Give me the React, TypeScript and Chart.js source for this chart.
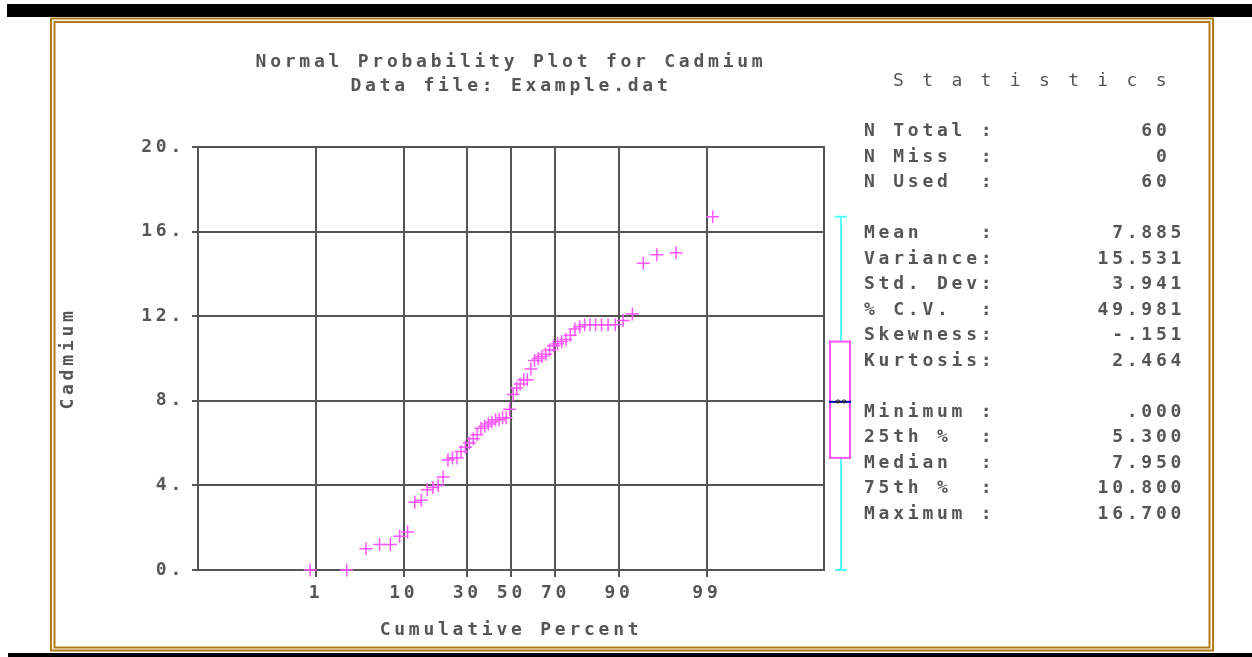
import React, { useEffect, useRef } from 'react';
import { Chart, registerables } from 'chart.js';

Chart.register(...registerables);

// ---- data ----
const cadmium = [
  0, 0, 1.0, 1.2, 1.2, 1.6, 1.8, 3.2, 3.3, 3.8,
  3.9, 4.0, 4.4, 5.2, 5.3, 5.3, 5.6, 5.8, 6.0, 6.2,
  6.4, 6.7, 6.8, 6.9, 7.0, 7.1, 7.1, 7.2, 7.2, 7.6,
  8.3, 8.6, 8.8, 9.0, 9.0, 9.5, 9.9, 10.0, 10.1, 10.2,
  10.4, 10.6, 10.7, 10.8, 10.9, 11.1, 11.4, 11.5, 11.6, 11.6,
  11.6, 11.6, 11.6, 11.6, 11.8, 12.1, 14.5, 14.9, 15.0, 16.7,
];
const cumulativePercent = [
  0.83, 2.5, 4.17, 5.83, 7.5, 9.17, 10.83, 12.5, 14.17, 15.83,
  17.5, 19.17, 20.83, 22.5, 24.17, 25.83, 27.5, 29.17, 30.83, 32.5,
  34.17, 35.83, 37.5, 39.17, 40.83, 42.5, 44.17, 45.83, 47.5, 49.17,
  50.83, 52.5, 54.17, 55.83, 57.5, 59.17, 60.83, 62.5, 64.17, 65.83,
  67.5, 69.17, 70.83, 72.5, 74.17, 75.83, 77.5, 79.17, 80.83, 82.5,
  84.17, 85.83, 87.5, 89.17, 90.83, 92.5, 94.17, 95.83, 97.5, 99.17,
];
const xTickPercents = [1, 10, 30, 50, 70, 90, 99];
const yTickStep = 4;
const yMin = 0;
const yMax = 20;

const titleLines = ['Normal Probability Plot for Cadmium', 'Data file: Example.dat'];
const xTitle = 'Cumulative Percent';
const yTitle = 'Cadmium';

const countLabels = ['N Total', 'N Miss', 'N Used'];
const countValues = [60, 0, 60];
const momentLabels = ['Mean', 'Variance', 'Std. Dev', '% C.V.', 'Skewness', 'Kurtosis'];
const momentValues = [7.885, 15.531, 3.941, 49.981, -0.151, 2.464];
const quantileLabels = ['Minimum', '25th %', 'Median', '75th %', 'Maximum'];
const quantileValues = [0, 5.3, 7.95, 10.8, 16.7];

// ---- helpers ----
function probit(p: number): number {
  const a = [-3.969683028665376e1, 2.209460984245205e2, -2.759285104469687e2, 1.38357751867269e2, -3.066479806614716e1, 2.506628277459239];
  const b = [-5.447609879822406e1, 1.615858368580409e2, -1.556989798598866e2, 6.680131188771972e1, -1.328068155288572e1];
  const c = [-7.784894002430293e-3, -3.223964580411365e-1, -2.400758277161838, -2.549732539343734, 4.374664141464968, 2.938163982698783];
  const d = [7.784695709041462e-3, 3.224671290700398e-1, 2.445134137142996, 3.754408661907416];
  const pl = 0.02425;
  const ph = 1 - pl;
  if (p < pl) {
    const q = Math.sqrt(-2 * Math.log(p));
    return (((((c[0] * q + c[1]) * q + c[2]) * q + c[3]) * q + c[4]) * q + c[5]) / ((((d[0] * q + d[1]) * q + d[2]) * q + d[3]) * q + 1);
  }
  if (p <= ph) {
    const q = p - 0.5;
    const r = q * q;
    return ((((((a[0] * r + a[1]) * r + a[2]) * r + a[3]) * r + a[4]) * r + a[5]) * q) / (((((b[0] * r + b[1]) * r + b[2]) * r + b[3]) * r + b[4]) * r + 1);
  }
  const q = Math.sqrt(-2 * Math.log(1 - p));
  return -(((((c[0] * q + c[1]) * q + c[2]) * q + c[3]) * q + c[4]) * q + c[5]) / ((((d[0] * q + d[1]) * q + d[2]) * q + d[3]) * q + 1);
}

function fmt3(v: number): string {
  let s = Math.abs(v).toFixed(3);
  if (s.startsWith('0.')) s = s.slice(1);
  return (v < 0 ? '-' : '') + s;
}

const W = 1252;
const H = 657;
const GRAY = '#555555';
const MAGENTA = '#ff55ff';
const CYAN = '#55ffff';
const DARKBLUE = '#0000aa';
const GOLD = '#b07a14';
const FONT = "'DejaVu Sans Mono', 'Liberation Mono', monospace";
const FONT_SIZE = 18;
const SPACING = '3.76px';

const statLines: string[] = [
  ...countLabels.map((l, i) => l.padEnd(8) + ':' + String(countValues[i]).padStart(12)),
  '',
  ...momentLabels.map((l, i) => l.padEnd(8) + ':' + fmt3(momentValues[i]).padStart(13)),
  '',
  ...quantileLabels.map((l, i) => l.padEnd(8) + ':' + fmt3(quantileValues[i]).padStart(13)),
];

const framePlugin = {
  id: 'frameAndBox',
  beforeInit(chart: any) {
    chart.ctx.letterSpacing = SPACING;
  },
  beforeUpdate(chart: any) {
    chart.ctx.letterSpacing = SPACING;
  },
  beforeDraw(chart: any) {
    const ctx = chart.ctx;
    ctx.letterSpacing = SPACING;
    ctx.save();
    ctx.fillStyle = '#ffffff';
    ctx.fillRect(0, 0, W, H);
    ctx.fillStyle = '#000000';
    ctx.fillRect(7, 4, W - 7, 13);
    ctx.fillRect(8, 653, W - 8, 4);
    ctx.strokeStyle = GOLD;
    ctx.lineWidth = 2;
    ctx.strokeRect(51, 18.5, 1162, 632);
    ctx.strokeRect(54.5, 22, 1155, 625.5);
    ctx.restore();
    ctx.letterSpacing = SPACING;
  },
  afterDraw(chart: any) {
    const ctx = chart.ctx;
    const area = chart.chartArea;
    const ys = chart.scales.y;
    ctx.save();
    // right border of plot
    ctx.strokeStyle = GRAY;
    ctx.lineWidth = 2;
    ctx.beginPath();
    ctx.moveTo(area.right, area.top - 1);
    ctx.lineTo(area.right, area.bottom + 1);
    ctx.stroke();

    // box plot
    const cx = area.right + 17;
    const boxL = area.right + 6;
    const boxR = area.right + 26;
    const yMinP = ys.getPixelForValue(quantileValues[0]);
    const yQ1 = ys.getPixelForValue(quantileValues[1]);
    const yMed = ys.getPixelForValue(quantileValues[2]);
    const yQ3 = ys.getPixelForValue(quantileValues[3]);
    const yMaxP = ys.getPixelForValue(quantileValues[4]);
    const yMean = ys.getPixelForValue(momentValues[0]);
    ctx.strokeStyle = CYAN;
    ctx.lineWidth = 2;
    ctx.beginPath();
    ctx.moveTo(cx, yMaxP);
    ctx.lineTo(cx, yQ3);
    ctx.moveTo(cx, yQ1);
    ctx.lineTo(cx, yMinP);
    ctx.moveTo(cx - 6, yMaxP);
    ctx.lineTo(cx + 6, yMaxP);
    ctx.moveTo(cx - 6, yMinP);
    ctx.lineTo(cx + 6, yMinP);
    ctx.stroke();
    ctx.strokeStyle = MAGENTA;
    ctx.strokeRect(boxL, yQ3, boxR - boxL, yQ1 - yQ3);
    ctx.strokeStyle = DARKBLUE;
    ctx.beginPath();
    ctx.moveTo(boxL - 1, yMed);
    ctx.lineTo(boxR + 1, yMed);
    ctx.stroke();
    ctx.letterSpacing = '0px';
    ctx.fillStyle = '#333333';
    ctx.font = 'bold 10px ' + FONT;
    ctx.textAlign = 'center';
    ctx.textBaseline = 'middle';
    ctx.fillText('**', cx, yMean + 1);
    ctx.restore();
    ctx.letterSpacing = SPACING;
  },
};

export default function App() {
  const canvasRef = useRef<HTMLCanvasElement | null>(null);

  useEffect(() => {
    const canvas = canvasRef.current;
    if (!canvas) return;
    const points = cadmium.map((v, i) => ({ x: probit(cumulativePercent[i] / 100), y: v }));
    const tickFont = { family: FONT, size: FONT_SIZE, weight: 'bold' as const, lineHeight: 24 / FONT_SIZE };
    const chart = new Chart(canvas, {
      type: 'scatter',
      data: {
        datasets: [
          {
            data: points,
            pointStyle: 'cross',
            pointRadius: 6.5,
            pointBorderWidth: 1.5,
            borderColor: MAGENTA,
            backgroundColor: MAGENTA,
            showLine: false,
            clip: false,
          },
        ],
      },
      options: {
        animation: false,
        responsive: false,
        devicePixelRatio: 1,
        layout: { padding: { left: 0, right: W - 824, top: 0, bottom: 0 } },
        plugins: {
          legend: { display: false },
          tooltip: { enabled: false },
          title: {
            display: true,
            text: titleLines,
            fullSize: false,
            color: GRAY,
            font: tickFont,
            padding: { top: 50, bottom: 49 },
          },
        },
        scales: {
          x: {
            type: 'linear',
            min: -3.73,
            max: 3.72,
            afterFit: (scale: any) => {
              scale.height = 87;
            },
            afterBuildTicks: (scale: any) => {
              scale.ticks = xTickPercents.map((p) => ({ value: probit(p / 100) }));
            },
            ticks: {
              autoSkip: false,
              maxRotation: 0,
              color: GRAY,
              font: tickFont,
              padding: 4,
              callback: (_v: any, i: number) => String(xTickPercents[i]),
            },
            grid: { color: GRAY, lineWidth: 2, tickLength: 7, drawOnChartArea: true },
            border: { display: true, color: GRAY, width: 2 },
            title: {
              display: true,
              text: xTitle,
              color: GRAY,
              font: tickFont,
              padding: { top: 0, bottom: 15 },
            },
          },
          y: {
            type: 'linear',
            min: yMin,
            max: yMax,
            afterFit: (scale: any) => {
              scale.width = 198;
            },
            ticks: {
              stepSize: yTickStep,
              color: GRAY,
              font: tickFont,
              padding: 7,
              callback: (v: any) => String(v) + '.',
            },
            grid: { color: GRAY, lineWidth: 2, tickLength: 6 },
            border: { display: true, color: GRAY, width: 2 },
            title: {
              display: true,
              text: yTitle,
              color: GRAY,
              font: tickFont,
              padding: { top: 56, bottom: 0 },
            },
          },
        },
      },
      plugins: [framePlugin],
    } as any);
    return () => chart.destroy();
  }, []);

  return (
    <div style={{ position: 'absolute', left: 0, top: 0, width: W, height: H, background: '#fff', overflow: 'hidden' }}>
      <canvas ref={canvasRef} width={W} height={H} style={{ position: 'absolute', left: 0, top: 0, width: W, height: H }} />
      <div
        style={{
          position: 'absolute',
          left: 893,
          top: 67,
          fontFamily: FONT,
          fontSize: FONT_SIZE,
          letterSpacing: SPACING,
          lineHeight: '26px',
          color: GRAY,
          whiteSpace: 'pre',
        }}
      >
        {'S t a t i s t i c s'}
      </div>
      <div
        style={{
          position: 'absolute',
          left: 864,
          top: 117.25,
          fontFamily: FONT,
          fontSize: FONT_SIZE,
          fontWeight: 'bold',
          letterSpacing: SPACING,
          lineHeight: '25.5px',
          color: GRAY,
          whiteSpace: 'pre',
        }}
      >
        {statLines.map((line, i) => (
          <div key={i} style={{ height: 25.5 }}>
            {line}
          </div>
        ))}
      </div>
    </div>
  );
}
